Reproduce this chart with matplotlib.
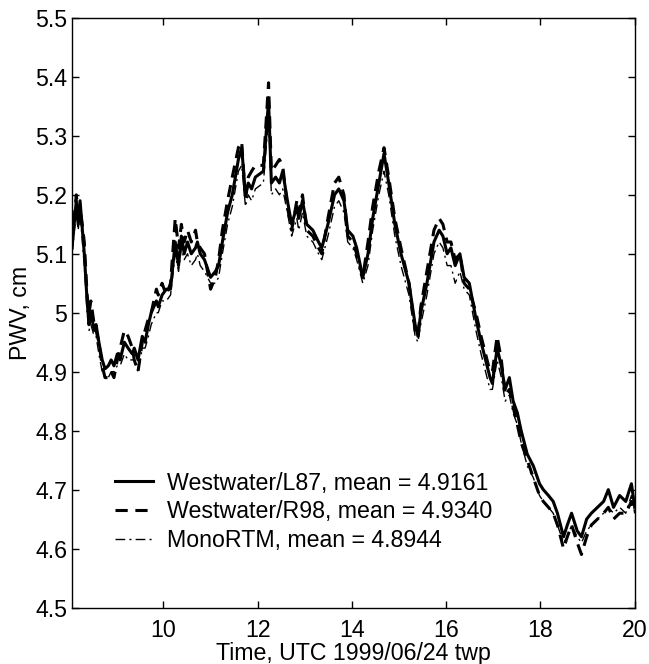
import matplotlib
matplotlib.use("Agg")
import matplotlib.pyplot as plt
from matplotlib.ticker import FixedLocator, FuncFormatter

plt.rcParams['font.family'] = ['Liberation Sans', 'DejaVu Sans']

time_h = [8.06, 8.15, 8.19, 8.23, 8.32, 8.38, 8.42, 8.46, 8.53, 8.57,
          8.63, 8.70, 8.76, 8.83, 8.89, 8.95, 9.02, 9.08, 9.17, 9.25,
          9.34, 9.38, 9.46, 9.55, 9.61, 9.68, 9.74, 9.85, 9.89, 9.97,
          10.06, 10.15, 10.25, 10.32, 10.38, 10.44, 10.51, 10.59, 10.68, 10.72,
          10.78, 10.87, 11.00, 11.10, 11.17, 11.25, 11.36, 11.46, 11.59, 11.66,
          11.74, 11.80, 11.87, 11.95, 12.12, 12.23, 12.29, 12.38, 12.46, 12.53,
          12.63, 12.72, 12.83, 12.87, 12.95, 13.04, 13.17, 13.29, 13.36, 13.49,
          13.63, 13.72, 13.83, 13.91, 14.02, 14.10, 14.23, 14.34, 14.44, 14.57,
          14.68, 14.78, 14.91, 15.04, 15.21, 15.34, 15.40, 15.46, 15.59, 15.74,
          15.85, 15.93, 16.02, 16.10, 16.19, 16.29, 16.38, 16.49, 16.63, 16.74,
          16.93, 16.98, 17.08, 17.17, 17.25, 17.34, 17.42, 17.51, 17.59, 17.72,
          17.85, 17.98, 18.06, 18.17, 18.27, 18.36, 18.49, 18.57, 18.66, 18.78,
          18.87, 18.98, 19.08, 19.21, 19.34, 19.44, 19.55, 19.68, 19.81, 19.93, 20.0]

pwv_l87 = [5.11, 5.19, 5.15, 5.19, 5.10, 5.02, 4.98, 5.00, 4.97, 4.98,
           4.95, 4.92, 4.905, 4.91, 4.92, 4.91, 4.93, 4.92, 4.95, 4.94,
           4.93, 4.94, 4.92, 4.96, 4.95, 4.98, 5.00, 5.02, 5.01, 5.03,
           5.04, 5.04, 5.12, 5.08, 5.13, 5.10, 5.12, 5.10, 5.11, 5.12,
           5.10, 5.09, 5.06, 5.07, 5.08, 5.12, 5.17, 5.20, 5.26, 5.28,
           5.20, 5.22, 5.21, 5.23, 5.24, 5.36, 5.22, 5.23, 5.22, 5.24,
           5.19, 5.15, 5.18, 5.16, 5.19, 5.15, 5.14, 5.12, 5.11, 5.15,
           5.20, 5.21, 5.19, 5.14, 5.13, 5.11, 5.06, 5.10, 5.16, 5.22,
           5.27, 5.22, 5.15, 5.10, 5.05, 4.98, 4.96, 5.00, 5.05, 5.12,
           5.14, 5.13, 5.10, 5.11, 5.08, 5.10, 5.06, 5.05, 4.99, 4.95,
           4.89, 4.88, 4.94, 4.91, 4.87, 4.89, 4.85, 4.83, 4.80, 4.76,
           4.74, 4.71, 4.70, 4.69, 4.68, 4.66, 4.62, 4.64, 4.66, 4.63,
           4.62, 4.65, 4.66, 4.67, 4.68, 4.70, 4.67, 4.69, 4.68, 4.71, 4.67]

pwv_r98 = [5.12, 5.20, 5.17, 5.18, 5.12, 5.03, 5.00, 5.02, 4.98, 4.97,
           4.95, 4.91, 4.89, 4.89, 4.90, 4.89, 4.92, 4.94, 4.97, 4.96,
           4.94, 4.92, 4.90, 4.95, 4.97, 4.99, 5.00, 5.04, 5.03, 5.05,
           5.03, 5.05, 5.16, 5.11, 5.15, 5.12, 5.14, 5.12, 5.14, 5.12,
           5.11, 5.10, 5.04, 5.06, 5.09, 5.14, 5.19, 5.23, 5.28, 5.29,
           5.19, 5.23, 5.24, 5.25, 5.25, 5.39, 5.24, 5.25, 5.26, 5.25,
           5.18, 5.14, 5.19, 5.17, 5.20, 5.14, 5.13, 5.11, 5.10, 5.16,
           5.22, 5.23, 5.20, 5.13, 5.12, 5.10, 5.06, 5.12, 5.18, 5.24,
           5.28, 5.23, 5.16, 5.11, 5.05, 4.97, 4.96, 5.01, 5.07, 5.14,
           5.16, 5.15, 5.12, 5.12, 5.09, 5.10, 5.05, 5.04, 5.00, 4.96,
           4.90, 4.90, 4.96, 4.92, 4.86, 4.87, 4.84, 4.81, 4.78, 4.75,
           4.72, 4.69, 4.68, 4.67, 4.66, 4.64, 4.60, 4.62, 4.64, 4.61,
           4.59, 4.62, 4.64, 4.65, 4.66, 4.67, 4.65, 4.66, 4.66, 4.68, 4.66]

pwv_mono = [5.10, 5.17, 5.14, 5.17, 5.08, 5.00, 4.97, 4.98, 4.96, 4.96,
            4.93, 4.90, 4.89, 4.89, 4.90, 4.90, 4.91, 4.91, 4.93, 4.92,
            4.92, 4.92, 4.90, 4.94, 4.94, 4.96, 4.98, 5.00, 5.00, 5.02,
            5.02, 5.03, 5.10, 5.07, 5.11, 5.09, 5.10, 5.08, 5.09, 5.10,
            5.08, 5.07, 5.05, 5.05, 5.06, 5.10, 5.15, 5.18, 5.24, 5.25,
            5.18, 5.20, 5.19, 5.21, 5.22, 5.33, 5.20, 5.21, 5.20, 5.21,
            5.17, 5.13, 5.16, 5.14, 5.17, 5.13, 5.12, 5.10, 5.09, 5.13,
            5.18, 5.19, 5.17, 5.12, 5.11, 5.09, 5.05, 5.08, 5.14, 5.20,
            5.24, 5.20, 5.13, 5.08, 5.03, 4.96, 4.95, 4.98, 5.03, 5.10,
            5.12, 5.11, 5.08, 5.08, 5.05, 5.07, 5.04, 5.03, 4.97, 4.93,
            4.87, 4.87, 4.92, 4.89, 4.85, 4.86, 4.83, 4.81, 4.78, 4.74,
            4.72, 4.69, 4.68, 4.67, 4.66, 4.64, 4.61, 4.62, 4.64, 4.62,
            4.61, 4.63, 4.64, 4.65, 4.66, 4.67, 4.66, 4.67, 4.66, 4.69, 4.66]

labels = ["Westwater/L87, mean = 4.9161",
          "Westwater/R98, mean = 4.9340",
          "MonoRTM, mean = 4.8944"]

x_ticks = [10, 12, 14, 16, 18, 20]
y_ticks = [4.5, 4.6, 4.7, 4.8, 4.9, 5.0, 5.1, 5.2, 5.3, 5.4, 5.5]

FS = 16.7

fig = plt.figure(figsize=(6.49, 6.64), dpi=100)
ax = fig.add_axes([0.111, 0.085, 0.867, 0.888])

ax.plot(time_h, pwv_l87, color='black', lw=2.2, ls='-', label=labels[0])
ax.plot(time_h, pwv_r98, color='black', lw=2.2, ls=(0, (4, 2.5)), label=labels[1])
ax.plot(time_h, pwv_mono, color='black', lw=1.0, ls=(0, (7, 3, 1.5, 3)), label=labels[2])

ax.set_xlim(8.06, 20)
ax.set_ylim(4.5, 5.5)
ax.xaxis.set_major_locator(FixedLocator(x_ticks))
ax.yaxis.set_major_locator(FixedLocator(y_ticks))
ax.yaxis.set_major_formatter(FuncFormatter(lambda v, p: ('%g' % round(v, 2))))
ax.tick_params(direction='in', top=True, right=True, length=5, width=1,
               labelsize=FS)
ax.tick_params(axis='y', pad=3.5)
ax.tick_params(axis='x', pad=8)
for s in ax.spines.values():
    s.set_linewidth(1.0)

ax.set_xlabel("Time, UTC 1999/06/24 twp", fontsize=FS, labelpad=0)
ax.set_ylabel("PWV, cm", fontsize=FS, labelpad=2)

leg = ax.legend(loc='lower left', bbox_to_anchor=(0.076, 0.094), frameon=False,
                fontsize=FS, handlelength=1.65, handletextpad=0.6,
                labelspacing=0.25, borderaxespad=0, borderpad=0)

fig.savefig("out.png", dpi=100)
